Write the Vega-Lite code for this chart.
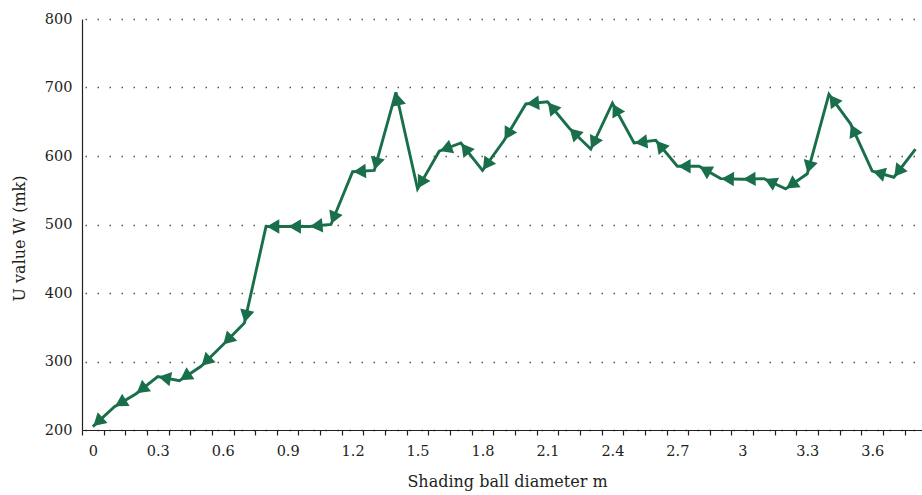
{
  "$schema": "https://vega.github.io/schema/vega-lite/v6.json",
  "width": 840,
  "height": 411,
  "autosize": {"type": "none"},
  "padding": {"left": 82, "top": 19, "right": 0, "bottom": 65},
  "background": "white",
  "config": {
    "view": {"stroke": null}
  },
  "data": {
    "values": [
      {"x": 0, "y": 205}, {"x": 0.1, "y": 234}, {"x": 0.2, "y": 253}, {"x": 0.3, "y": 278},
      {"x": 0.4, "y": 272}, {"x": 0.5, "y": 293}, {"x": 0.6, "y": 324}, {"x": 0.7, "y": 356},
      {"x": 0.8, "y": 497}, {"x": 0.9, "y": 497}, {"x": 1.0, "y": 497}, {"x": 1.1, "y": 500},
      {"x": 1.2, "y": 577}, {"x": 1.3, "y": 579}, {"x": 1.4, "y": 693}, {"x": 1.5, "y": 552},
      {"x": 1.6, "y": 607}, {"x": 1.7, "y": 619}, {"x": 1.8, "y": 579}, {"x": 1.9, "y": 623},
      {"x": 2.0, "y": 676}, {"x": 2.1, "y": 679}, {"x": 2.2, "y": 641}, {"x": 2.3, "y": 610},
      {"x": 2.4, "y": 677}, {"x": 2.5, "y": 619}, {"x": 2.6, "y": 623}, {"x": 2.7, "y": 585},
      {"x": 2.8, "y": 585}, {"x": 2.9, "y": 567}, {"x": 3.0, "y": 566}, {"x": 3.1, "y": 567},
      {"x": 3.2, "y": 552}, {"x": 3.3, "y": 574}, {"x": 3.4, "y": 690}, {"x": 3.5, "y": 647},
      {"x": 3.6, "y": 578}, {"x": 3.7, "y": 569}, {"x": 3.8, "y": 610}
    ]
  },
  "resolve": {"axis": {"x": "independent"}},
  "layer": [
    {
      "mark": {"type": "line", "color": "#1a6f4b", "strokeWidth": 2.9},
      "encoding": {
        "x": {
          "field": "x",
          "type": "quantitative",
          "scale": {"domain": [-0.05, 3.83], "nice": false, "zero": false},
          "axis": {
            "orient": "bottom",
            "title": "Shading ball diameter m",
            "values": [0, 0.3, 0.6, 0.9, 1.2, 1.5, 1.8, 2.1, 2.4, 2.7, 3, 3.3, 3.6],
            "format": ".1~f",
            "ticks": false,
            "labelPadding": 14,
            "labelOverlap": false,
            "labelBound": false,
            "labelFlush": false,
            "grid": false,
            "domainColor": "#231f20",
            "domainWidth": 1.2,
            "labelFont": "DejaVu Serif",
            "labelFontSize": 14.5,
            "labelColor": "#231f20",
            "titleFont": "DejaVu Serif",
            "titleFontSize": 16,
            "titleFontWeight": "normal",
            "titleColor": "#231f20",
            "titlePadding": 16,
            "titleX": 425
          }
        },
        "y": {
          "field": "y",
          "type": "quantitative",
          "scale": {"domain": [200, 800], "nice": false, "zero": false},
          "axis": {
            "title": "U value W (mk)",
            "values": [200, 300, 400, 500, 600, 700, 800],
            "ticks": false,
            "labelPadding": 10,
            "grid": true,
            "gridDash": [1.5, 10.5],
            "gridDashOffset": -3,
            "gridColor": "#555555",
            "gridWidth": 1.5,
            "domainColor": "#231f20",
            "domainWidth": 1.2,
            "labelFont": "DejaVu Serif",
            "labelFontSize": 14.5,
            "labelColor": "#231f20",
            "titleFont": "DejaVu Serif",
            "titleFontSize": 16,
            "titleFontWeight": "normal",
            "titleColor": "#231f20",
            "titlePadding": 17,
            "titleY": 219
          }
        }
      }
    },
    {
      "transform": [
        {"window": [{"op": "lead", "field": "x", "as": "nx"}, {"op": "lead", "field": "y", "as": "ny"}], "sort": [{"field": "x", "order": "ascending"}]},
        {"filter": "isValid(datum.nx)"},
        {"calculate": "atan2(-(datum.y - datum.ny) * 0.685, (datum.x - datum.nx) * 216.49)", "as": "a"},
        {"calculate": "datum.a * 180 / PI", "as": "ang"},
        {"calculate": "datum.x - 7 * cos(datum.a) / 216.49", "as": "cx"},
        {"calculate": "datum.y + 7 * sin(datum.a) / 0.685", "as": "cy"}
      ],
      "mark": {"type": "point", "shape": "triangle-right", "filled": true, "color": "#1a6f4b", "opacity": 1, "size": 210},
      "encoding": {
        "x": {
          "field": "cx",
          "type": "quantitative",
          "axis": {
            "orient": "bottom",
            "title": null,
            "values": [-0.05, 0.05, 0.15, 0.25, 0.35, 0.45, 0.55, 0.65, 0.75, 0.85, 0.95, 1.05, 1.15, 1.25, 1.35, 1.45, 1.55, 1.65, 1.75, 1.85, 1.95, 2.05, 2.15, 2.25, 2.35, 2.45, 2.55, 2.65, 2.75, 2.85, 2.95, 3.05, 3.15, 3.25, 3.35, 3.45, 3.55, 3.65, 3.75],
            "labels": false,
            "domain": false,
            "grid": false,
            "ticks": true,
            "tickSize": 5,
            "tickWidth": 1.2,
            "tickColor": "#231f20"
          }
        },
        "y": {"field": "cy", "type": "quantitative"},
        "angle": {"field": "ang", "type": "quantitative", "scale": null}
      }
    }
  ]
}
